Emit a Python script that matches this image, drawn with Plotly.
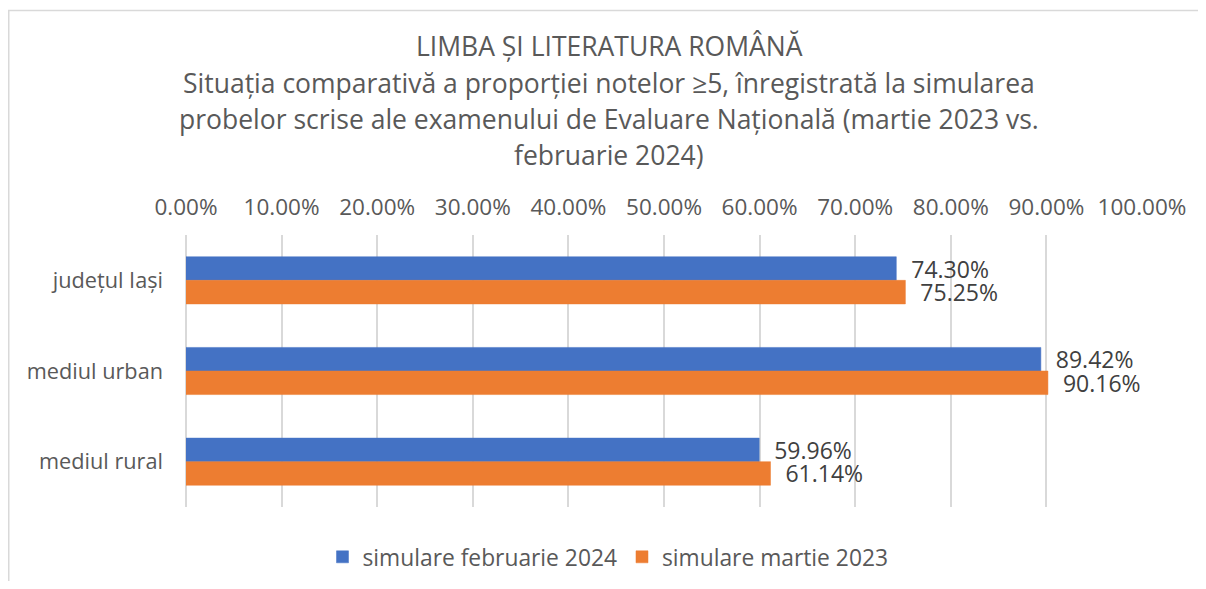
import plotly.graph_objects as go

categories = ["județul Iași", "mediul urban", "mediul rural"]
series_names = ["simulare februarie 2024", "simulare martie 2023"]
feb_2024 = [74.30, 89.42, 59.96]
mar_2023 = [75.25, 90.16, 61.14]
x_ticks = [0, 10, 20, 30, 40, 50, 60, 70, 80, 90, 100]
title_lines = [
    "LIMBA ȘI LITERATURA ROMÂNĂ",
    "Situația comparativă a proporției notelor ≥5, înregistrată la simularea",
    "probelor scrise ale examenului de Evaluare Națională (martie 2023 vs.",
    "februarie 2024)",
]

FONT = "Open Sans"
OFF = 8  # page body margin
W, H = 1206 - 2 * OFF, 589 - 2 * OFF
PL, PR, PT, PB = 186, 1142, 235, 507  # plot area in page pixels
L, R, T, B = PL - OFF, W - (PR - OFF), PT - OFF, H - (PB - OFF)
plot_h = PB - PT
plot_w = PR - PL

colors = ["#4472C4", "#ED7D31"]

fig = go.Figure()
for name, vals, c in zip(series_names, [feb_2024, mar_2023], colors):
    fig.add_trace(go.Bar(
        y=categories, x=vals, name=name, orientation="h",
        marker=dict(color=c, line=dict(color=c, width=0.5)),
        text=[f"\u00a0\u00a0{v:.2f}%" for v in vals],
        textposition="outside", constraintext="none", cliponaxis=False,
        textfont=dict(family=FONT, size=23, color="#404040"),
        hoverinfo="skip",
    ))

def py(ypix):
    return (PB - ypix) / plot_h

def px(xpix):
    return (xpix - PL) / plot_w

annotations = []
for i, line in enumerate(title_lines):
    annotations.append(dict(
        text=line, xref="paper", yref="paper", x=px(609), y=py(46.5 + 36 * i),
        xanchor="center", yanchor="middle", showarrow=False,
        font=dict(family=FONT, size=26.5, color="#595959"),
    ))

fig.update_layout(
    width=W, height=H,
    margin=dict(l=L, r=R, t=T, b=B, autoexpand=False),
    paper_bgcolor="white", plot_bgcolor="white",
    barmode="group", bargap=0.48, bargroupgap=0,
    showlegend=True,
    legend=dict(orientation="h", x=px(608), y=py(557), xanchor="center", yanchor="middle",
                font=dict(family=FONT, size=22.8, color="#595959"),
                itemclick=False, tracegroupgap=0),
    annotations=annotations,
    shapes=[dict(type="rect", xref="paper", yref="paper",
                 x0=px(8.75), x1=px(1300), y0=py(700), y1=py(10.5),
                 line=dict(color="#D9D9D9", width=1.5), fillcolor="rgba(0,0,0,0)", layer="below")],
    xaxis=dict(side="top", range=[0, 100], tickvals=x_ticks,
               ticktext=[f"{v:.2f}%" for v in x_ticks],
               showgrid=True, gridcolor="#D9D9D9", gridwidth=1.5,
               zeroline=True, zerolinecolor="#D9D9D9", zerolinewidth=1.5,
               showline=False, ticks="", ticklabelstandoff=15,
               tickfont=dict(family=FONT, size=22.5, color="#595959"), fixedrange=True),
    yaxis=dict(autorange="reversed", showgrid=False, showline=False, ticks="",
               ticklabelstandoff=22,
               tickfont=dict(family=FONT, size=21.7, color="#595959"), fixedrange=True),
)

fig.write_html("out.html")
